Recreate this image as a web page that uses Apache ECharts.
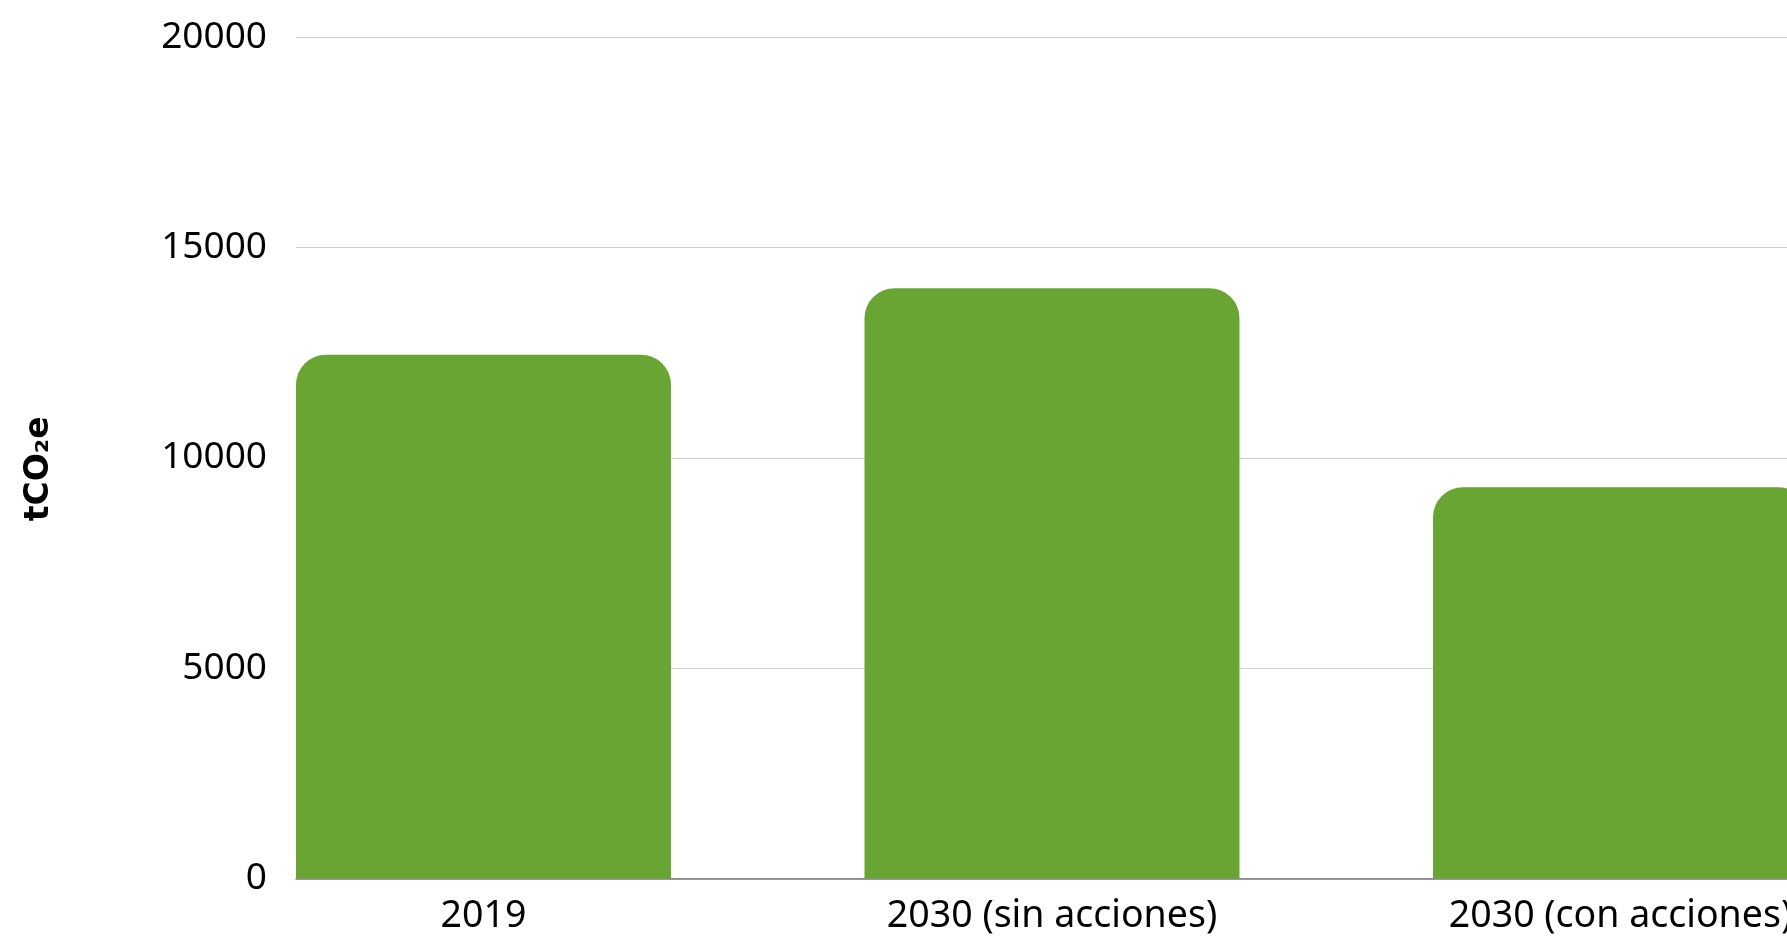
<!DOCTYPE html>
<html>
<head>
<meta charset="utf-8">
<script src="https://cdn.jsdelivr.net/npm/echarts@6/dist/echarts.min.js"></script>
<style>
  html, body { margin: 0; padding: 0; background: #fff; }
  #chart { width: 1787px; height: 940px; }
</style>
</head>
<body>
<div id="chart"></div>
<script>
const categories = ['2019', '2030 (sin acciones)', '2030 (con acciones)']
const emissions = [12450, 14030, 9300]
const yTicks = { min: 0, max: 20000, interval: 5000 }
const yName = 'tCO₂e'

const font = '"Noto Sans", "Open Sans", sans-serif'
const green = '#68a532'

// the plot is cropped: first bar starts right at the axis, last one runs off the edge
const xMin = -0.3298
const xMax = 2.2929

const chart = echarts.init(document.getElementById('chart'))

chart.setOption({
  backgroundColor: '#fff',
  animation: false,
  grid: { left: 296, right: 0, top: 37, bottom: 61.5, outerBoundsMode: 'none' },
  xAxis: {
    type: 'value',
    min: xMin,
    max: xMax,
    splitLine: { show: false },
    axisLine: { show: true, lineStyle: { color: '#777', width: 1.5 } },
    axisTick: { show: false },
    axisLabel: {
      customValues: categories.map((c, i) => i),
      formatter: (v) => categories[Math.round(v)],
      color: '#000',
      fontFamily: font,
      fontSize: 37.5,
      margin: 19
    }
  },
  yAxis: {
    type: 'value',
    min: yTicks.min,
    max: yTicks.max,
    interval: yTicks.interval,
    name: yName,
    nameLocation: 'middle',
    nameRotate: 90,
    nameGap: 240,
    nameTextStyle: {
      color: '#000',
      fontFamily: '"DejaVu Sans", sans-serif',
      fontSize: 33,
      fontWeight: 'bold',
      padding: [0, 22, 0, 0]
    },
    axisLine: { show: false },
    axisTick: { show: false },
    axisLabel: {
      color: '#000',
      fontFamily: font,
      fontSize: 37,
      margin: 29,
      formatter: (v) => String(v)
    },
    splitLine: { lineStyle: { color: '#cfcfcf', width: 1.2 } }
  },
  series: [
    {
      type: 'bar',
      data: emissions.map((v, i) => [i, v]),
      barWidth: 375,
      itemStyle: { color: green, borderRadius: [30, 30, 0, 0] },
      z: 3
    }
  ]
})
</script>
</body>
</html>
